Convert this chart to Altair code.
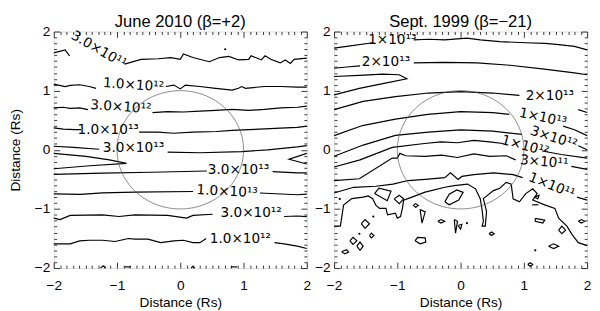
import altair as alt
import numpy as np
import pandas as pd

W, H = 260, 243
TICK_FONT = "Liberation Sans"
LABEL_FONT = "DejaVu Sans"

TICK_VALUES = [-2, -1, 0, 1, 2]
MINOR_TICKS = [round(-2 + 0.1 * i, 1) for i in range(41)]

TITLE_LEFT = "June 2010 (β=+2)"
TITLE_RIGHT = "Sept. 1999 (β=−21)"
AXIS_TITLE = "Distance (Rs)"

# ---------------- left panel contours (data units, Rs) ----------------
LEFT_SEGMENTS = [
    [(-2.0, 1.64), (-1.82, 1.69), (-1.75, 1.59)],
    [(-0.88, 1.45), (-0.62, 1.53), (-0.35, 1.54), (-0.15, 1.56), (0.0, 1.53), (0.05, 1.62), (0.2, 1.56),
     (0.46, 1.49), (0.62, 1.56), (0.77, 1.58), (0.92, 1.52), (1.08, 1.53), (1.12, 1.59), (1.28, 1.52),
     (1.34, 1.59), (1.43, 1.53), (1.58, 1.47), (1.66, 1.52), (1.74, 1.46), (1.8, 1.53), (2.0, 1.55)],
    [(-2.0, 1.11), (-1.82, 1.07), (-1.74, 1.09), (-1.59, 1.10), (-1.44, 1.07), (-1.33, 1.04)],
    [(-0.23, 1.07), (-0.10, 1.095), (0.0, 1.03), (0.08, 1.095), (0.31, 1.07), (0.56, 1.04), (0.82, 1.01),
     (0.92, 1.04), (0.97, 1.07), (1.03, 1.04), (1.33, 1.07), (1.59, 1.07), (1.85, 1.06), (2.0, 1.06)],
    [(-2.0, 0.71), (-1.85, 0.72), (-1.74, 0.70), (-1.59, 0.71), (-1.46, 0.68)],
    [(-0.44, 0.63), (-0.2, 0.645), (0.05, 0.64), (0.31, 0.655), (0.56, 0.667), (0.82, 0.683), (1.08, 0.667),
     (1.33, 0.683), (1.59, 0.71), (1.85, 0.72), (2.0, 0.74)],
    [(-2.0, 0.37), (-1.85, 0.35), (-1.66, 0.34), (-1.57, 0.34)],
    [(-0.65, 0.30), (-0.35, 0.30), (-0.11, 0.28), (0.2, 0.30), (0.57, 0.31), (0.82, 0.33), (1.08, 0.34),
     (1.34, 0.354), (1.58, 0.366), (1.85, 0.38), (2.0, 0.40)],
    [(-2.0, 0.06), (-1.69, 0.04), (-1.28, 0.01)],
    [(-0.2, -0.04), (0.31, -0.05), (0.97, -0.03), (1.38, 0.0), (1.85, 0.05), (2.0, 0.07)],
    [(-2.0, -0.06), (-1.49, -0.11), (-1.12, -0.17), (-0.85, -0.23), (-1.43, -0.27), (-2.0, -0.32)],
    [(2.0, -0.06), (1.72, -0.16), (2.0, -0.24)],
    [(-2.0, -0.415), (-1.23, -0.395), (-0.46, -0.379), (0.42, -0.359)],
    [(1.46, -0.37), (1.85, -0.39), (2.0, -0.39)],
    [(-2.0, -0.744), (-1.58, -0.754), (-1.23, -0.728), (-0.72, -0.716), (0.2, -0.705)],
    [(1.26, -0.73), (1.85, -0.76), (2.0, -0.75)],
    [(-2.0, -1.156), (-1.9, -1.18), (-1.74, -1.11), (-1.23, -1.10), (-0.97, -1.128), (-0.72, -1.10),
     (-0.2, -1.11), (0.1, -1.156), (0.2, -1.11), (0.51, -1.09)],
    [(1.64, -1.128), (1.85, -1.12), (2.0, -1.13)],
    [(-2.0, -1.59), (-1.74, -1.59), (-1.59, -1.54), (-1.44, -1.53), (-1.23, -1.53), (-1.03, -1.55),
     (-0.82, -1.50), (-0.72, -1.51), (-0.51, -1.51), (-0.31, -1.57), (-0.1, -1.54), (0.05, -1.53),
     (0.2, -1.57), (0.31, -1.57), (0.41, -1.50)],
    [(1.49, -1.57), (1.64, -1.59), (1.85, -1.63), (2.0, -1.67)],
    [(-1.26, -2.0), (-1.22, -1.96), (-1.18, -2.0)],
    [(-0.88, -1.98), (-0.78, -1.98)],
    [(0.17, -2.0), (0.2, -1.97), (0.23, -2.0)],
    [(0.8, -1.98), (0.9, -1.98)],
]
LEFT_LABELS = [
    ("3.0×10¹¹", -1.29, 1.69, 30),
    ("1.0×10¹²", -0.74, 1.09, 4),
    ("3.0×10¹²", -0.94, 0.72, 4),
    ("1.0×10¹³", -1.14, 0.34, 0),
    ("3.0×10¹³", -0.74, 0.03, 0),
    ("3.0×10¹³", 0.92, -0.34, 0),
    ("1.0×10¹³", 0.74, -0.71, 3),
    ("3.0×10¹²", 1.12, -1.07, 0),
    ("1.0×10¹²", 0.95, -1.51, 0),
]
LEFT_DOTS = [(0.71, 1.70)]

# ---------------- right panel contours ----------------
RIGHT_SEGMENTS = [
    [(-2.0, 1.72), (-1.8, 1.75), (-1.39, 1.81)],
    [(-0.74, 1.86), (-0.51, 1.87), (-0.25, 1.86), (0.1, 1.89), (0.31, 1.86), (0.62, 1.83), (1.03, 1.81),
     (1.34, 1.80), (1.55, 1.78), (1.80, 1.75), (2.0, 1.69)],
    [(-2.0, 1.38), (-1.8, 1.40), (-1.59, 1.42)],
    [(-0.74, 1.47), (-0.25, 1.48), (0.26, 1.47), (0.78, 1.43), (1.29, 1.37), (1.80, 1.30), (2.0, 1.27)],
    [(-2.0, 1.24), (-1.6, 1.26), (-1.23, 1.28), (-0.97, 1.27), (-0.85, 1.20), (-1.23, 1.12), (-1.6, 1.04),
     (-2.0, 0.93)],
    [(-2.0, 0.68), (-1.54, 0.82), (-1.03, 0.90), (-0.51, 0.96), (0.0, 0.985), (0.51, 0.96), (0.93, 0.92)],
    [(1.86, 0.68), (2.0, 0.63)],
    [(-2.0, 0.24), (-1.55, 0.41), (-1.03, 0.52), (-0.52, 0.60), (0.0, 0.645), (0.51, 0.63), (0.77, 0.60)],
    [(1.62, 0.40), (1.8, 0.34), (2.0, 0.24)],
    [(-2.0, -0.11), (-1.54, 0.08), (-1.03, 0.244), (-0.51, 0.30), (0.0, 0.337), (0.51, 0.316), (0.97, 0.26)],
    [(1.86, 0.07), (2.0, 0.0)],
    [(-2.0, -0.29), (-1.59, -0.17), (-1.08, 0.04), (-0.57, 0.107), (-0.31, 0.135), (-0.05, 0.12),
     (0.21, 0.16), (0.46, 0.135), (0.67, 0.107)],
    [(1.29, -0.02), (1.59, -0.08), (2.0, -0.14)],
    [(-2.0, -0.52), (-1.6, -0.49), (-1.08, -0.14), (-1.0, -0.14), (-0.96, -0.06), (-0.87, -0.10),
     (-0.56, -0.11), (-0.3, -0.09), (-0.05, -0.13), (0.21, -0.07), (0.46, -0.11), (0.72, -0.10),
     (0.87, -0.17)],
    [(1.75, -0.28), (2.0, -0.33)],
    [(-2.0, -0.73), (-1.69, -0.634), (-1.34, -0.617), (-1.07, -0.58), (-0.83, -0.52), (-0.56, -0.50),
     (-0.25, -0.47), (-0.16, -0.39), (-0.04, -0.50), (0.02, -0.45), (0.21, -0.42), (0.52, -0.39),
     (0.83, -0.42), (0.98, -0.47)],
    [(1.84, -0.80), (2.0, -0.85)],
    [(-2.0, -1.29), (-1.90, -1.29), (-1.85, -0.935), (-1.72, -0.826), (-1.54, -0.80), (-1.46, -0.78),
     (-1.39, -0.826), (-1.34, -0.935), (-1.28, -0.99), (-1.18, -0.99), (-1.155, -1.10), (-1.03, -1.07),
     (-1.0, -1.155), (-0.95, -1.13), (-0.92, -0.99), (-0.90, -0.853), (-0.77, -0.80), (-0.56, -0.716),
     (-0.25, -0.634), (-0.10, -0.606), (0.11, -0.58), (0.235, -0.66), (0.31, -0.826), (0.34, -1.017),
     (0.36, -1.21), (0.34, -1.29), (0.39, -1.29), (0.41, -1.045), (0.36, -0.826), (0.52, -0.69),
     (0.62, -0.65), (0.72, -0.55), (0.80, -0.58), (0.83, -0.83), (0.93, -0.88), (1.03, -0.74),
     (1.14, -0.66), (1.21, -0.74), (1.14, -0.85), (1.34, -0.935), (1.49, -0.99), (1.55, -1.155),
     (1.68, -1.29), (1.76, -1.43), (1.86, -1.57), (2.0, -1.62)],
    [(-1.36, -0.74), (-1.29, -0.65), (-1.10, -0.70), (-1.16, -0.86), (-1.36, -0.74)],
    [(-1.05, -0.83), (-0.97, -0.77), (-0.90, -0.83), (-0.97, -0.91), (-1.05, -0.83)],
    [(-0.75, -0.94), (-0.71, -0.91), (-0.67, -0.94), (-0.71, -0.97), (-0.75, -0.94)],
    [(-1.57, -1.25), (-1.51, -1.18), (-1.44, -1.25), (-1.51, -1.33), (-1.57, -1.25)],
    [(-1.44, -1.45), (-1.41, -1.41), (-1.37, -1.45), (-1.41, -1.49), (-1.44, -1.45)],
    [(-1.75, -1.54), (-1.70, -1.48), (-1.64, -1.54), (-1.70, -1.60), (-1.75, -1.54)],
    [(-1.64, -1.63), (-1.59, -1.56), (-1.54, -1.63), (-1.59, -1.70), (-1.64, -1.63)],
    [(-1.88, -1.72), (-1.80, -1.69), (-1.77, -1.73), (-1.83, -1.76), (-1.88, -1.72)],
    [(-0.64, -1.01), (-0.56, -1.05), (-0.61, -1.24), (-0.64, -1.01)],
    [(-0.36, -1.21), (-0.31, -1.18), (-0.25, -1.21), (-0.31, -1.24), (-0.36, -1.21)],
    [(-0.10, -1.18), (-0.05, -1.21), (-0.08, -1.41), (-0.10, -1.18)],
    [(-0.04, -1.28), (0.02, -1.26), (0.0, -1.34), (-0.04, -1.28)],
    [(-0.25, -0.88), (-0.18, -0.75), (-0.06, -0.68), (0.04, -0.72), (-0.03, -0.85), (-0.18, -0.93),
     (-0.25, -0.88)],
    [(-0.72, -1.54), (-0.68, -1.48), (-0.56, -1.49), (-0.55, -1.56), (-0.64, -1.59), (-0.72, -1.54)],
    [(1.18, -1.16), (1.33, -1.19), (1.30, -1.24), (1.18, -1.21), (1.18, -1.16)],
    [(1.55, -1.36), (1.60, -1.29), (1.66, -1.36), (1.60, -1.42), (1.55, -1.36)],
    [(1.39, -1.63), (1.47, -1.59), (1.55, -1.63), (1.47, -1.67), (1.39, -1.63)],
    [(1.17, -0.80), (1.24, -0.77), (1.22, -0.83), (1.17, -0.80)],
    [(1.86, -1.21), (1.91, -1.18), (1.96, -1.21), (1.91, -1.24), (1.86, -1.21)],
    [(1.06, -1.94), (1.10, -1.91), (1.14, -1.94), (1.10, -1.97), (1.06, -1.94)],
    [(1.13, -0.93), (1.23, -0.93)],
    [(0.45, -1.42), (0.49, -1.39), (0.53, -1.42), (0.49, -1.45), (0.45, -1.42)],
]
RIGHT_LABELS = [
    ("1×10¹³", -1.08, 1.86, 0),
    ("2×10¹³", -1.18, 1.48, 0),
    ("2×10¹³", 1.41, 0.90, 0),
    ("1×10¹³", 1.30, 0.54, 12),
    ("3×10¹²", 1.47, 0.20, 18),
    ("1×10¹²", 1.02, 0.06, 15),
    ("3×10¹¹", 1.32, -0.21, 5),
    ("1×10¹¹", 1.44, -0.61, 22),
]
RIGHT_DOTS = [(-1.91, -0.83), (-1.38, -1.13), (-1.6, -1.42), (1.18, -1.7), (0.1, -1.24)]

# solar disk outline, radius 1 Rs
theta = np.linspace(0, 2 * np.pi, 181)
circle_df = pd.DataFrame({"x": np.cos(theta), "y": np.sin(theta), "ord": np.arange(181)})


def seg_df(segs):
    rows = []
    for i, s in enumerate(segs):
        for j, (x, y) in enumerate(s):
            rows.append({"seg": i, "ord": j, "x": x, "y": y})
    return pd.DataFrame(rows)


sc = alt.Scale(domain=[-2, 2], nice=False, zero=False)
TICK_SIZE = {"condition": {"test": "abs(datum.value - round(datum.value)) < 0.001", "value": 6}, "value": 3}


def tick_axis(orient, offset):
    return alt.Axis(orient=orient, offset=offset, values=MINOR_TICKS, labels=False, domain=False,
                    grid=False, ticks=True, tickSize=TICK_SIZE, tickColor="black", tickWidth=0.8,
                    title=None, minExtent=0)


def panel(segs, labels, dots, title, ytitle):
    segdf = seg_df(segs)
    labdf = pd.DataFrame(labels, columns=["t", "x", "y", "a"])
    dotdf = pd.DataFrame(dots, columns=["x", "y"])
    xa = alt.Axis(orient="bottom", values=TICK_VALUES, ticks=False, tickSize=0, domain=False, grid=False,
                  labelFont=TICK_FONT, labelFontSize=14, labelColor="black", labelPadding=11,
                  labelFlush=False, labelOverlap=False, format="d",
                  title=AXIS_TITLE, titleFont=TICK_FONT, titleFontSize=14, titleFontWeight="normal",
                  titleColor="black", titlePadding=3)
    if ytitle:
        ya = alt.Axis(orient="left", values=TICK_VALUES, ticks=False, tickSize=0, domain=False, grid=False,
                      labelFont=TICK_FONT, labelFontSize=14, labelColor="black", labelPadding=4,
                      format="d", title=AXIS_TITLE, titleFont=TICK_FONT, titleFontSize=14,
                      titleFontWeight="normal", titleColor="black", titlePadding=12)
    else:
        ya = alt.Axis(orient="left", values=TICK_VALUES, ticks=False, tickSize=0, domain=False, grid=False,
                      labelFont=TICK_FONT, labelFontSize=14, labelColor="black", labelPadding=4,
                      format="d", title=None)
    lines = alt.Chart(segdf).mark_line(color="black", strokeWidth=1.2).encode(
        x=alt.X("x:Q", scale=sc, axis=xa),
        y=alt.Y("y:Q", scale=sc, axis=ya),
        detail="seg:N",
        order="ord:Q",
    )
    circ = alt.Chart(circle_df).mark_line(color="#555555", strokeWidth=0.7).encode(
        x=alt.X("x:Q", scale=sc, axis=tick_axis("top", -H)),
        y=alt.Y("y:Q", scale=sc, axis=tick_axis("right", -W)),
        order="ord:Q",
    )
    labs = alt.Chart(labdf).mark_text(font=LABEL_FONT, fontSize=14, color="black", align="center",
                                      baseline="middle").encode(
        x=alt.X("x:Q", scale=sc, axis=tick_axis("bottom", -H)),
        y=alt.Y("y:Q", scale=sc, axis=tick_axis("left", -W)),
        text="t:N",
        angle=alt.Angle("a:Q", scale=None),
    )
    pts = alt.Chart(dotdf).mark_circle(size=5, color="black", opacity=1).encode(
        x=alt.X("x:Q", scale=sc, axis=None),
        y=alt.Y("y:Q", scale=sc, axis=None),
    )
    return alt.layer(lines, circ, labs, pts).resolve_axis(x="independent", y="independent").properties(
        width=W, height=H,
        title=alt.TitleParams(title, font=TICK_FONT, fontSize=17, fontWeight="normal", color="black",
                              anchor="middle", frame="group", offset=-6),
    )


left = panel(LEFT_SEGMENTS, LEFT_LABELS, LEFT_DOTS, TITLE_LEFT, True)
right = panel(RIGHT_SEGMENTS, RIGHT_LABELS, RIGHT_DOTS, TITLE_RIGHT, False)

chart = alt.hconcat(left, right, spacing=28, bounds="flush").properties(
    padding={"left": 0, "top": 0, "right": 0, "bottom": 0}
).configure_view(stroke="black", strokeWidth=1).configure(background="white")

chart.save("out.html", embed_options={"renderer": "svg", "actions": False})
